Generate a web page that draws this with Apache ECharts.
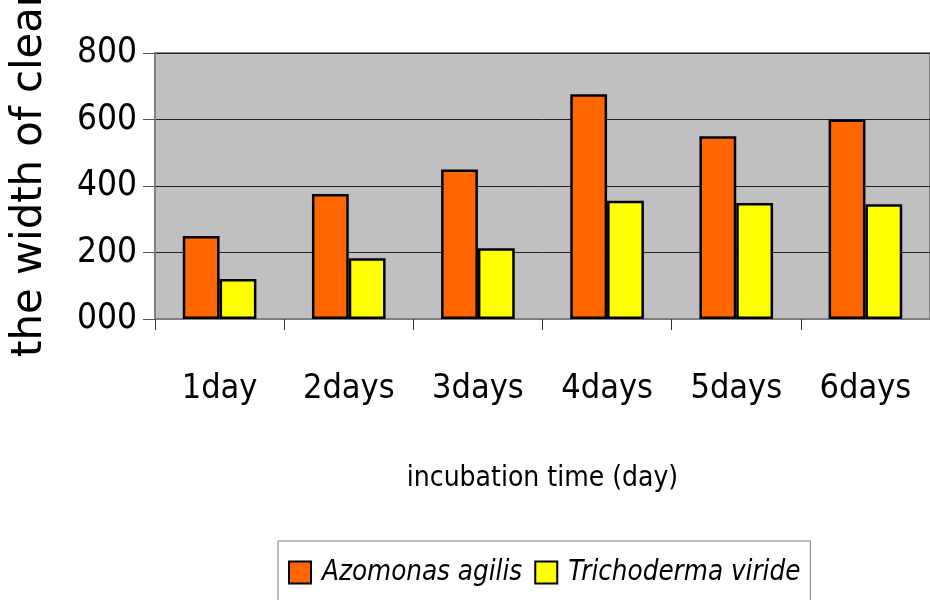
<!DOCTYPE html>
<html>
<head>
<meta charset="utf-8">
<script src="https://cdn.jsdelivr.net/npm/echarts@6/dist/echarts.min.js"></script>
<style>
  html, body { margin: 0; padding: 0; background: #fff; }
  #chart { width: 930px; height: 600px; }
</style>
</head>
<body>
<div id="chart"></div>
<script>
// Incubation days on the category axis
const categories = ['1day', '2days', '3days', '4days', '5days', '6days'];
// Clear-zone width per organism
const azomonasAgilis = [250, 376, 450, 676, 550, 600];
const trichodermaViride = [120, 183, 213, 356, 349, 345];
const seriesNames = ['Azomonas agilis', 'Trichoderma viride'];
const yTicks = [0, 200, 400, 600, 800];

const condensed = "'DejaVu Sans Condensed', 'Liberation Sans', Arial, sans-serif";

const chart = echarts.init(document.getElementById('chart'), null, { renderer: 'canvas' });

const barStyle = (color) => ({
  color: color,
  borderColor: '#000',
  borderWidth: 2.5
});

chart.setOption({
  animation: false,
  backgroundColor: '#fff',
  grid: {
    left: 155,
    right: -7,
    top: 53,
    bottom: 281,
    show: true,
    backgroundColor: '#c0c0c0',
    borderColor: '#808080',
    borderWidth: 2,
    containLabel: false
  },
  legend: {
    left: 278,
    top: 541,
    data: seriesNames,
    orient: 'horizontal',
    icon: 'rect',
    itemWidth: 22,
    itemHeight: 22,
    itemGap: 12,
    padding: [18, 10, 40, 10],
    borderColor: '#808080',
    borderWidth: 1,
    backgroundColor: '#fff',
    textStyle: {
      fontFamily: condensed,
      fontStyle: 'italic',
      fontSize: 27.5,
      color: '#000',
      padding: [0, 0, 0, 6]
    }
  },
  xAxis: {
    type: 'category',
    data: categories,
    axisLine: { show: true, lineStyle: { color: '#808080', width: 2 } },
    axisTick: { show: true, interval: 0, length: 11, lineStyle: { color: '#333', width: 1 } },
    axisLabel: {
      interval: 0,
      margin: 53,
      fontFamily: condensed,
      fontSize: 34,
      color: '#000'
    },
    name: 'incubation time (day)',
    nameLocation: 'middle',
    nameGap: 146,
    nameTextStyle: {
      fontFamily: condensed,
      fontSize: 28,
      color: '#000'
    }
  },
  yAxis: {
    type: 'value',
    min: yTicks[0],
    max: yTicks[yTicks.length - 1],
    interval: yTicks[1] - yTicks[0],
    axisLine: { show: true, lineStyle: { color: '#808080', width: 2 } },
    axisTick: { show: true, length: 12, lineStyle: { color: '#555', width: 1 } },
    axisLabel: {
      margin: 18,
      fontFamily: condensed,
      fontSize: 35,
      color: '#000',
      formatter: (v) => String(v).padStart(3, '0')
    },
    splitLine: { show: true, lineStyle: { color: '#222', width: 1 } }
  },
  graphic: [
    {
      type: 'text',
      x: 30,
      y: 357,
      rotation: Math.PI / 2,
      style: {
        text: 'the width of clear zone (mm)',
        fontFamily: "'DejaVu Sans', sans-serif",
        fontSize: 41.8,
        fill: '#000',
        align: 'left',
        verticalAlign: 'middle'
      }
    }
  ],
  series: [
    {
      name: seriesNames[0],
      type: 'bar',
      data: azomonasAgilis,
      barGap: '0%',
      barCategoryGap: '43%',
      itemStyle: barStyle('#ff6600')
    },
    {
      name: seriesNames[1],
      type: 'bar',
      data: trichodermaViride,
      itemStyle: barStyle('#ffff00')
    }
  ]
});
</script>
</body>
</html>
